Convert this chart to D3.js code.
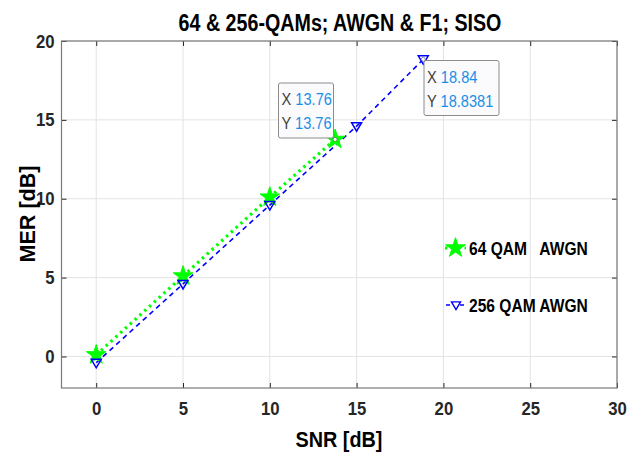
<!DOCTYPE html>
<html><head><meta charset="utf-8">
<script src="https://cdn.jsdelivr.net/npm/d3@7"></script>
<style>
body{margin:0;background:#fff;}
text{font-family:"Liberation Sans",Arial,Helvetica,sans-serif;}
</style></head>
<body><svg id="c" width="640" height="460"></svg>
<script>
const xTicks = [0,5,10,15,20,25,30];
const yTicks = [0,5,10,15,20];
const snr64 = [0,5,10,13.76];
const mer64 = [0.1,5.1,10.1,13.76];
const snr256 = [0,5,10,15,18.84];
const mer256 = [-0.4,4.6,9.6,14.6,18.8381];
const seriesNames = ["64 QAM   AWGN","256 QAM AWGN"];
const tipX = [13.76,18.84];
const tipY = [13.76,18.8381];
const tipLabelX = ["13.76","18.84"];
const tipLabelY = ["13.76","18.8381"];

const svg = d3.select("#c");
const L=61.5,R=617,T=41,B=388;
const x = d3.scaleLinear().domain([-2,30]).range([L,R]);
const y = d3.scaleLinear().domain([-2,20]).range([B,T]);

function ctext(px,py,s,str,size,opts){
  const t = svg.append("text").attr("transform",`translate(${px},${py}) scale(${s},1)`)
    .attr("font-size",size).attr("font-weight",opts.bold?"bold":"normal")
    .attr("fill",opts.fill||"#000").attr("text-anchor",opts.anchor||"start");
  if(str!==null) t.text(str);
  return t;
}

svg.append("rect").attr("width",640).attr("height",460).attr("fill","#fff");
// grid
const g = svg.append("g");
g.selectAll(".gx").data(xTicks).join("line").attr("x1",d=>x(d)).attr("x2",d=>x(d)).attr("y1",T).attr("y2",B).attr("stroke","#e3e3e3").attr("stroke-width",1);
g.selectAll(".gy").data(yTicks).join("line").attr("y1",d=>y(d)).attr("y2",d=>y(d)).attr("x1",L).attr("x2",R).attr("stroke","#e3e3e3").attr("stroke-width",1);

// axes
const ax = d3.axisBottom(x).tickValues(xTicks).tickSize(-5).tickPadding(14).tickFormat(d3.format("d"));
const ay = d3.axisLeft(y).tickValues(yTicks).tickSize(-5).tickPadding(7).tickFormat(d3.format("d"));
const gx = svg.append("g").attr("transform",`translate(0,${B})`).call(ax);
const gy = svg.append("g").attr("transform",`translate(${L},0)`).call(ay);
svg.append("g").attr("transform",`translate(0,${T})`).call(d3.axisTop(x).tickValues(xTicks).tickSize(-5).tickFormat("")).select(".domain").remove();
svg.append("g").attr("transform",`translate(${R},0)`).call(d3.axisRight(y).tickValues(yTicks).tickSize(-5).tickFormat("")).select(".domain").remove();
svg.selectAll(".tick line").attr("stroke","#262626");
[gx,gy].forEach(a=>{a.select(".domain").remove();a.selectAll("text").attr("font-size",19).attr("font-weight","bold").attr("fill","#262626").attr("transform","scale(0.88,1)");});
gy.selectAll("text").attr("x",-7/0.88);
svg.append("rect").attr("x",L).attr("y",T).attr("width",R-L).attr("height",B-T).attr("fill","none").attr("stroke","#7a7a7a").attr("stroke-width",1.2);

// lines
const line = d3.line().x(d=>x(d[0])).y(d=>y(d[1]));
const d64 = snr64.map((v,i)=>[v,mer64[i]]);
const d256 = snr256.map((v,i)=>[v,mer256[i]]);
svg.append("path").attr("d",line(d256)).attr("fill","none").attr("stroke","#0000ff").attr("stroke-width",1.6).attr("stroke-dasharray","5,4");
svg.append("path").attr("d",line(d64)).attr("fill","none").attr("stroke","#00ff00").attr("stroke-width",3.2).attr("stroke-dasharray","2.5,4");

const star = d3.symbol().type(d3.symbolStar).size(120);
const tri = (cx,cy,s)=>`M${cx-s},${cy-s*0.7}L${cx+s},${cy-s*0.7}L${cx},${cy+s*1.0}Z`;
svg.selectAll(".s64").data(d64).join("path").attr("d",star).attr("transform",d=>`translate(${x(d[0])},${y(d[1])})`).attr("fill","#00ff00").attr("stroke","#00ff00");
svg.selectAll(".t256").data(d256).join("path").attr("d",d=>tri(x(d[0]),y(d[1]),5)).attr("fill","none").attr("stroke","#0000ff").attr("stroke-width",1.5);

// datatips
function tip(i,bx,by,w,h){
  svg.append("circle").attr("cx",x(tipX[i])).attr("cy",y(tipY[i])).attr("r",2).attr("fill","#fff").attr("stroke","#555").attr("stroke-width",0.6);
  svg.append("rect").attr("x",bx).attr("y",by).attr("width",w).attr("height",h).attr("rx",2).attr("fill","#fbfbfd").attr("stroke","#8c8c8c").attr("stroke-width",1);
  const tx = ctext(bx+3,by+22,0.86,null,17,{fill:"#404040"});
  tx.append("tspan").text("X ");
  tx.append("tspan").attr("fill","#1a8fe8").text(tipLabelX[i]);
  const ty = ctext(bx+3,by+46,0.86,null,17,{fill:"#404040"});
  ty.append("tspan").text("Y ");
  ty.append("tspan").attr("fill","#1a8fe8").text(tipLabelY[i]);
}
tip(0,278.5,83,55,55);
tip(1,424,60.5,75,55);

// legend
svg.append("line").attr("x1",445).attr("x2",466).attr("y1",248).attr("y2",248).attr("stroke","#00ff00").attr("stroke-width",3.2).attr("stroke-dasharray","2.5,4");
svg.append("path").attr("d",star).attr("transform","translate(455.5,248)").attr("fill","#00ff00").attr("stroke","#00ff00");
svg.append("line").attr("x1",446).attr("x2",467).attr("y1",305).attr("y2",305).attr("stroke","#0000ff").attr("stroke-width",1.6).attr("stroke-dasharray","4,3");
svg.append("path").attr("d",tri(456,305,4.5)).attr("fill","#fff").attr("stroke","#0000ff").attr("stroke-width",1.4);
seriesNames.forEach((n,i)=>{
  ctext(469,i?312:255,0.82,n,19,{bold:true}).attr("xml:space","preserve").style("white-space","pre");
});

// labels
ctext(340,31,0.82,"64 & 256-QAMs; AWGN & F1; SISO",24,{bold:true,anchor:"middle"});
ctext(339,447,0.9,"SNR [dB]",22,{bold:true,anchor:"middle"});
svg.append("text").attr("transform","translate(35,214) rotate(-90) scale(0.98,1)").attr("text-anchor","middle").attr("font-size",22).attr("font-weight","bold").attr("fill","#000").text("MER [dB]");
</script></body></html>
